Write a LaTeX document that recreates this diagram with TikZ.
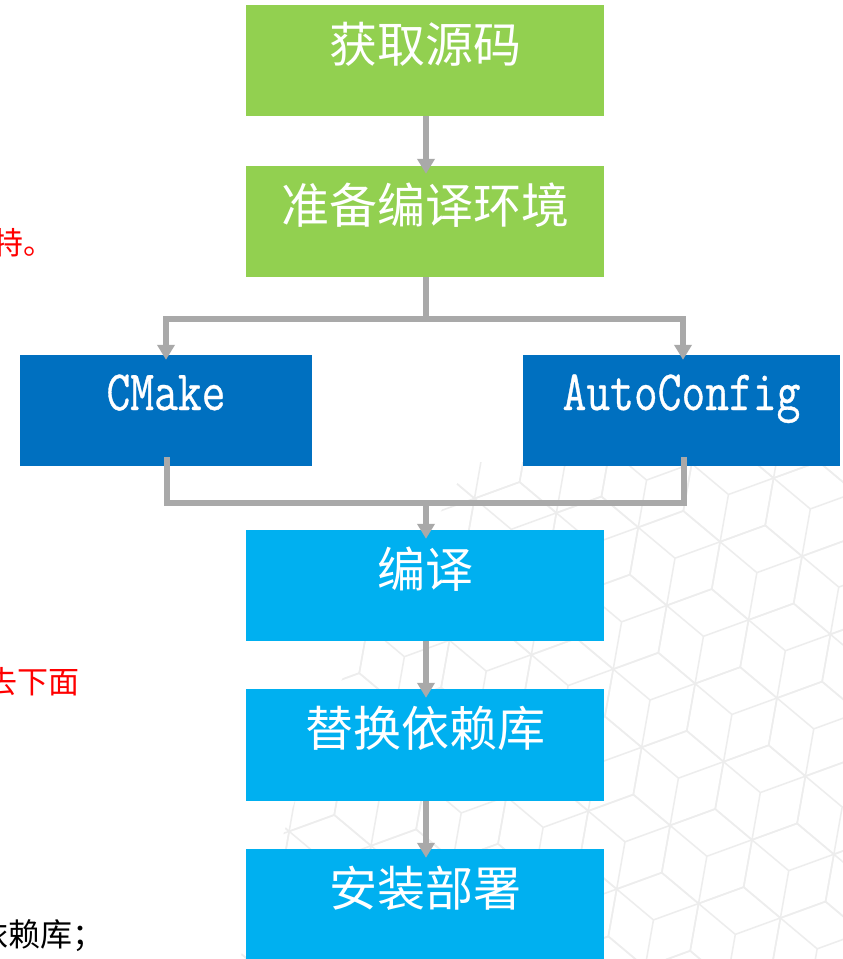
\documentclass[tikz,border=0pt]{standalone}
\usepackage{fontspec}
\newfontfamily\cjk{Noto Sans CJK SC}
\newfontfamily\monof[FakeStretch=0.81,FakeBold=0.6]{Latin Modern Mono}
\usetikzlibrary{arrows.meta}
\definecolor{cgreen}{HTML}{92D050}
\definecolor{cdblue}{HTML}{0070C0}
\definecolor{clblue}{HTML}{00B0F0}
\definecolor{agray}{HTML}{A9A9A9}
\definecolor{bggray}{HTML}{EDEDED}
\definecolor{cred}{HTML}{FF0000}
\begin{document}
\begin{tikzpicture}[x=1pt,y=-1pt,
  box/.style={rectangle, inner sep=0pt, draw=none, minimum width=358pt, minimum height=111pt},
  cjklabel/.style={anchor=base, inner sep=0pt, text=white, font=\cjk\fontsize{48}{50}\selectfont},
  monolabel/.style={anchor=base, inner sep=0pt, text=white, font=\monof\fontsize{57}{60}\selectfont},
  line/.style={draw=agray, line width=6pt},
  conn/.style={line, -{Triangle[width=17pt,length=15pt]}},
  side/.style={inner sep=0pt, text=cred, font=\cjk\fontsize{31}{33}\selectfont},
  bg/.style={draw=bggray, line width=1.5pt}]
\useasboundingbox (0,0) rectangle (843,959);
\fill[white] (0,0) rectangle (843,959);
% faint background pattern
\begin{scope}
\clip (470,462) -- (843,462) -- (843,959) -- (240,959) -- (330,700) -- cycle;
\begin{scope}[shift={(650,700)}, rotate=-10]
\foreach \i in {-8,...,8}{
  \foreach \j in {-7,...,7}{
    \pgfmathsetmacro\cx{\i*83.14+\j*41.57}
    \pgfmathsetmacro\cy{\j*72}
    \draw[bg] (\cx,\cy) +(30:48) -- +(90:48) -- +(150:48) -- +(210:48) -- +(270:48) -- +(330:48) -- cycle;
    \draw[bg] (\cx,\cy) -- +(90:48) (\cx,\cy) -- +(210:48) (\cx,\cy) -- +(330:48);
  }
}
\end{scope}
\end{scope}
% side texts
\node[side, anchor=base west] (t1) at (-8,254) {特。};
\node[side, anchor=base east] (t2) at (80,693) {去下面};
\node[side, anchor=base west, text=black, font=\cjk\fontsize{32}{34}\selectfont] (t3) at (-24,946) {依赖库；};
% boxes
\node[box, fill=cgreen] (src) at (425,60.5) {};
\node[box, fill=cgreen] (prep) at (425,221.5) {};
\node[box, fill=cdblue, minimum width=292pt] (cmake) at (166,410.5) {};
\node[box, fill=cdblue, minimum width=317pt] (auto) at (681.5,410.5) {};
\node[box, fill=clblue] (comp) at (425,585.5) {};
\node[box, fill=clblue, minimum height=112pt] (repl) at (425,745) {};
\node[box, fill=clblue, minimum height=122pt] (inst) at (425,910) {};
% labels
\node[cjklabel] (srct) at (425,62) {获取源码};
\node[cjklabel] (prept) at (425,223) {准备编译环境};
\node[monolabel] (cmaket) at (166,410) {CMake};
\node[monolabel] (autot) at (681.5,410) {AutoConfig};
\node[cjklabel] (compt) at (425,587) {编译};
\node[cjklabel] (replt) at (425,746) {替换依赖库};
\node[cjklabel] (instt) at (425,906) {安装部署};
% connectors
\coordinate (split) at (426,319);
\coordinate (merge) at (426,503);
\coordinate (cmb) at (167,457);
\coordinate (aub) at (684,457);
\draw[conn] (src.south -| split) -- ([yshift=-8pt]prep.north -| split);
\draw[line] (prep.south -| split) -- (split);
\draw[conn] (split) -| ([yshift=-5pt]cmake.north);
\draw[conn] (split) -| ([xshift=1.5pt,yshift=-5pt]auto.north);
\draw[line] (cmb) |- (merge);
\draw[line] (aub) |- (merge);
\draw[conn] (merge) -- ([yshift=-9pt]comp.north -| merge);
\draw[conn] (comp.south -| merge) -- ([yshift=-9pt]repl.north -| merge);
\draw[conn] (repl.south -| merge) -- ([yshift=-9pt]inst.north -| merge);
\end{tikzpicture}
\end{document}
